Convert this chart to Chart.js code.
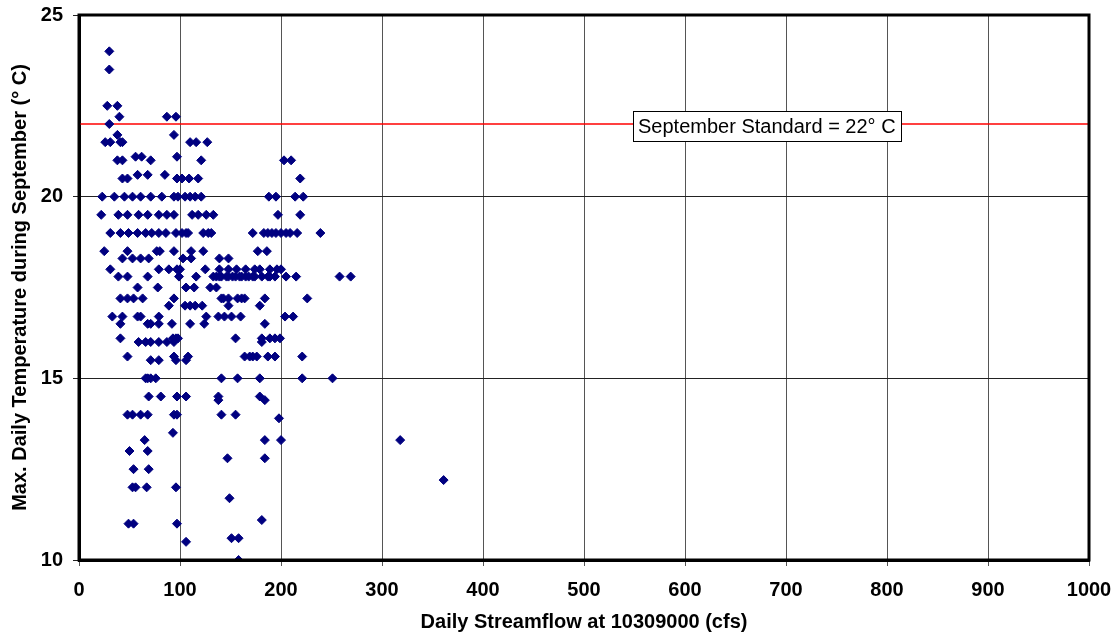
<!DOCTYPE html>
<html>
<head>
<meta charset="utf-8">
<script src="https://cdn.jsdelivr.net/npm/chart.js@4"></script>
<style>
  html, body { margin: 0; padding: 0; background: #fff; }
  #wrap { width: 1119px; height: 639px; }
</style>
</head>
<body>
<div id="wrap"><canvas id="scatter" width="1119" height="639"></canvas></div>
<script>
// max daily temperature (deg C) levels, and the streamflows (cfs) observed at each level
const temps = [24, 23.5, 22.5, 22.2, 22, 21.7, 21.5, 21.1, 21, 20.6, 20.5, 20, 19.5, 19, 18.5, 18.3, 18, 17.8,
  17.5, 17.2, 17, 16.7, 16.5, 16.1, 16, 15.6, 15.5, 15, 14.5, 14.4, 14, 13.9, 13.5, 13.3, 13, 12.8, 12.5,
  12.2, 12, 11.7, 11.1, 11, 10.6, 10.5, 10];
const flows = [
  [30],
  [30],
  [28, 38],
  [40, 87, 96],
  [30],
  [38, 94],
  [26, 31, 41, 43, 110, 116, 127],
  [56, 62, 97],
  [38, 43, 71, 121, 203, 210],
  [58, 68, 85],
  [43, 48, 97, 102, 109, 118, 219],
  [23, 35, 45, 53, 61, 71, 82, 94, 98, 105, 110, 115, 121, 188, 195, 214, 222],
  [22, 39, 48, 59, 68, 79, 87, 94, 112, 118, 126, 133, 197, 219],
  [31, 41, 49, 58, 66, 72, 79, 86, 96, 102, 106, 108, 123, 128, 131, 172, 183, 187, 191, 195, 200, 205, 209, 216, 239],
  [25, 48, 77, 80, 94, 111, 123, 177, 186],
  [43, 53, 61, 69, 103, 111, 139, 148],
  [31, 79, 89, 97, 100, 125, 139, 148, 156, 165, 174, 179, 189, 196, 200],
  [39, 48, 68, 99, 116, 133, 136, 139, 141, 146, 148, 152, 155, 159, 161, 165, 168, 172, 174, 181, 187, 189, 194, 205, 215, 258, 269],
  [58, 78, 106, 114, 130, 136],
  [41, 48, 54, 63, 94, 141, 143, 148, 157, 161, 164, 184, 226],
  [89, 105, 110, 115, 122, 148, 179],
  [33, 43, 58, 61, 79, 126, 138, 144, 151, 160, 204, 212],
  [41, 68, 71, 79, 92, 110, 124, 184],
  [41, 93, 96, 98, 155, 181, 189, 194, 199],
  [59, 66, 71, 79, 87, 94, 181],
  [48, 94, 108, 164, 169, 172, 176, 187, 194, 221],
  [71, 79, 96, 106],
  [66, 68, 71, 76, 141, 157, 179, 221, 251],
  [69, 81, 97, 106, 138, 179],
  [138, 184],
  [48, 53, 61, 68, 94, 97, 141, 155],
  [198],
  [93],
  [65, 184, 200, 318],
  [50, 68],
  [147, 184],
  [54, 69],
  [361],
  [53, 56, 67, 96],
  [149],
  [181],
  [49, 54, 97],
  [151, 158],
  [106],
  [158]
];
const xTicks = [0, 100, 200, 300, 400, 500, 600, 700, 800, 900, 1000];
const yTicks = [10, 15, 20, 25];
const standardTemp = 22;
const standardLabel = 'September Standard = 22° C';

const points = [];
temps.forEach(function (t, i) {
  flows[i].forEach(function (q) {
    points.push({ x: q, y: t });
  });
});

const FONT = "'Liberation Sans', Arial, sans-serif";

// red standard line + label box, and the heavy frame round the plot
const overlay = {
  id: 'overlay',
  beforeDatasetsDraw: function (chart) {
    const ctx = chart.ctx;
    const area = chart.chartArea;
    const yPix = chart.scales.y.getPixelForValue(standardTemp);
    ctx.save();
    ctx.strokeStyle = '#ff0000';
    ctx.lineWidth = 1.5;
    ctx.beginPath();
    ctx.moveTo(area.left, yPix);
    ctx.lineTo(area.right, yPix);
    ctx.stroke();

    ctx.font = '20px ' + FONT;
    const w = ctx.measureText(standardLabel).width;
    const cx = chart.scales.x.getPixelForValue(681);
    const boxW = Math.round(w + 10), boxH = 30;
    const bx = Math.round(cx - boxW / 2), by = Math.round(yPix - boxH / 2 + 2);
    ctx.fillStyle = '#fff';
    ctx.fillRect(bx, by, boxW, boxH);
    ctx.strokeStyle = '#000';
    ctx.lineWidth = 1;
    ctx.strokeRect(bx + 0.5, by + 0.5, boxW, boxH);
    ctx.fillStyle = '#000';
    ctx.textAlign = 'center';
    ctx.textBaseline = 'middle';
    ctx.fillText(standardLabel, cx, by + boxH / 2 + 1);
    ctx.restore();
  },
  afterDraw: function (chart) {
    const ctx = chart.ctx;
    const a = chart.chartArea;
    ctx.save();
    ctx.strokeStyle = '#000';
    ctx.lineWidth = 3;
    ctx.strokeRect(a.left, a.top, a.right - a.left, a.bottom - a.top);
    ctx.restore();
  }
};

new Chart(document.getElementById('scatter'), {
  type: 'scatter',
  data: {
    datasets: [{
      label: 'Max. daily temperature',
      data: points,
      pointStyle: 'rectRot',
      pointRadius: 4.5,
      pointHoverRadius: 4.5,
      pointBackgroundColor: '#000080',
      pointBorderColor: '#000080',
      pointBorderWidth: 1
    }]
  },
  options: {
    responsive: false,
    animation: false,
    layout: { padding: { top: 15, right: 30, left: 0, bottom: 0 } },
    plugins: {
      legend: { display: false },
      tooltip: { enabled: false }
    },
    scales: {
      x: {
        type: 'linear',
        min: 0,
        max: 1000,
        afterBuildTicks: function (scale) {
          scale.ticks = xTicks.map(function (v) { return { value: v }; });
        },
        afterFit: function (scale) {
          scale.height = 79;
          scale.paddingLeft = 0;
          scale.paddingRight = 0;
        },
        grid: { color: '#555', lineWidth: 1, tickLength: 6, drawTicks: true },
        border: { color: '#000', width: 3 },
        ticks: {
          color: '#000',
          padding: 12,
          maxRotation: 0,
          callback: function (v) { return String(v); },
          font: { family: FONT, size: 20, weight: 'bold' }
        },
        title: {
          display: true,
          text: 'Daily Streamflow at 10309000 (cfs)',
          color: '#000',
          padding: { top: 4, bottom: 5 },
          font: { family: FONT, size: 20, weight: 'bold' }
        }
      },
      y: {
        type: 'linear',
        min: 10,
        max: 25,
        afterBuildTicks: function (scale) {
          scale.ticks = yTicks.map(function (v) { return { value: v }; });
        },
        afterFit: function (scale) {
          scale.width = 79;
          scale.paddingTop = 0;
          scale.paddingBottom = 0;
        },
        grid: { color: '#222', lineWidth: 1, tickLength: 6, drawTicks: true },
        border: { color: '#000', width: 3 },
        ticks: {
          color: '#000',
          padding: 10,
          font: { family: FONT, size: 20, weight: 'bold' }
        },
        title: {
          display: true,
          text: 'Max. Daily Temperature during September (° C)',
          color: '#000',
          padding: { top: 8, bottom: 0 },
          font: { family: FONT, size: 20, weight: 'bold' }
        }
      }
    }
  },
  plugins: [overlay]
});
</script>
</body>
</html>
